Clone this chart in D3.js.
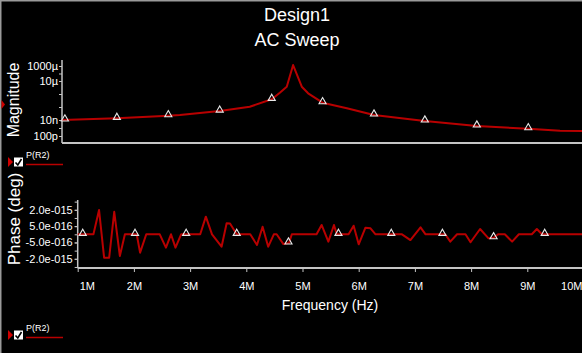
<!DOCTYPE html>
<html>
<head>
<meta charset="utf-8">
<script src="https://cdn.jsdelivr.net/npm/d3@7"></script>
<style>
  html, body { margin: 0; padding: 0; background: #000; }
  svg { display: block; }
  text { font-family: "Liberation Sans", Arial, sans-serif; fill: #fff; }
</style>
</head>
<body>
<div id="chart"></div>
<script>
// magnitude trace, frequency in MHz
const magFreq   = [1.00, 1.95, 2.84, 3.04, 3.73, 4.25, 4.63, 4.77, 4.89, 5.00, 5.15, 5.26, 5.51, 5.93, 6.40, 7.02, 7.28, 8.18, 9.07, 9.62, 10.0];
const magValues = [1.0e-8, 1.35e-8, 2.14e-8, 2.43e-8, 4.9e-8, 1.05e-7, 3.9e-7, 1.26e-6, 3.65e-6, 1.35e-3, 3.65e-6, 1.13e-6, 2.14e-7, 7.9e-8, 2.43e-8, 1.13e-8, 7.5e-9, 1.78e-9, 8.2e-10, 4.6e-10, 4.2e-10];
const magMarkerFreq = [1.05, 1.95, 2.84, 3.73, 4.63, 5.51, 6.40, 7.28, 8.18, 9.07];

// phase trace (numerical noise around 0 deg)
const phaseFreq = [1.00, 1.28, 1.38, 1.47, 1.56, 1.65, 1.75, 1.84, 2.05, 2.11, 2.22, 2.46, 2.57, 2.66, 2.74, 2.84,
  3.18, 3.28, 3.39, 3.56, 3.65, 3.71, 3.83, 4.07, 4.19, 4.29, 4.39, 4.49, 4.54, 4.66, 4.76, 4.81,
  5.25, 5.34, 5.46, 5.56, 5.61, 5.82, 5.91, 6.00, 6.12, 6.21, 6.30, 6.77, 6.92, 7.10, 7.19,
  7.54, 7.63, 7.75, 7.90, 7.99, 8.16, 8.31, 8.40, 8.48, 8.60, 8.73, 8.85, 9.08, 9.17, 9.26, 10.0];
const phaseValues = [0, 0, 1.98e-15, -1.91e-15, -1.91e-15, 1.84e-15, -1.77e-15, 0, 0, -1.50e-15, 0, 0, -1.09e-15, 0, -1.09e-15, 0,
  0, 1.44e-15, 0, -1.01e-15, 0.90e-15, 0.88e-15, 0, 0, -0.87e-15, 0.62e-15, -1.01e-15, 0, 0, -0.80e-15, -0.70e-15, 0,
  0, 0.76e-15, -0.60e-15, 0.76e-15, 0, 0, 0.70e-15, -0.82e-15, 0.54e-15, 0.49e-15, 0, 0, -0.47e-15, 0.57e-15, 0,
  0, -0.60e-15, 0, 0, -0.65e-15, 0.43e-15, -0.33e-15, -0.28e-15, 0, 0, -0.60e-15, 0, 0, 0.43e-15, 0, 0];
const phaseMarkerFreq = [1.09, 2.02, 2.93, 3.83, 4.75, 5.64, 6.58, 7.49, 8.40, 9.31];

// axis ticks
const freqTicks = [1, 2, 3, 4, 5, 6, 7, 8, 9, 10];
const freqTickLabels = ["1M", "2M", "3M", "4M", "5M", "6M", "7M", "8M", "9M", "10M"];
const magTickValues = [1e-3, 1e-5, 1e-8, 1e-10];
const magTickLabels = ["1000µ", "10µ", "10n", "100p"];
const magMinorTicks = [1e-3, 1e-4, 1e-5, 1e-6, 1e-7, 1e-8, 1e-9, 1e-10];
const phaseTickValues = [2e-15, 6.667e-16, -6.667e-16, -2e-15];
const phaseTickLabels = ["2.0e-015", "5.0e-016", "-5.0e-016", "-2.0e-015"];
const phaseMinorTicks = [2.667e-15, 2e-15, 1.333e-15, 6.667e-16, 0, -6.667e-16, -1.333e-15, -2e-15, -2.667e-15];

const W = 582, H = 353;
const traceColor = "#b80000";
const axisColor = "#c4c4c4";

const mag = { left: 62, top: 60, bottom: 143 };
const ph = { left: 77.7, top: 200, bottom: 268 };

const svg = d3.select("#chart").append("svg")
  .attr("width", W)
  .attr("height", H);

svg.append("rect").attr("width", W).attr("height", H).attr("fill", "#000");

// window border (top + left)
svg.append("path")
  .attr("d", `M0.75,${H}V0.75H${W}`)
  .attr("fill", "none")
  .attr("stroke", "#9a9a9a")
  .attr("stroke-width", 1.5);

// titles
svg.append("text").attr("x", 297).attr("y", 21).attr("text-anchor", "middle")
  .style("font-size", "18px").text("Design1");
svg.append("text").attr("x", 297).attr("y", 46).attr("text-anchor", "middle")
  .style("font-size", "18px").text("AC Sweep");

// ---- scales ----
const magX = d3.scaleLinear().domain([1, 10]).range([mag.left, 582]);
const magY = d3.scaleLog()
  .domain([1e-10, 1e-8, 1e-5, 1e-3])
  .range([136, 120, 81, 66]);

const phX = d3.scaleLinear().domain([1, 10]).range([ph.left, 583.5]);
const phY = d3.scaleLinear().domain([-2e-15, 2e-15]).range([258.8, 209.8]);

function styleAxis(g) {
  g.select(".domain").remove();
  g.selectAll(".tick line").attr("stroke", axisColor);
  g.selectAll(".tick text").attr("fill", "#fff").style("font-size", "11px")
    .style("font-family", "'Liberation Sans', Arial, sans-serif");
}

// ---- magnitude plot ----
svg.append("line")
  .attr("x1", mag.left).attr("x2", mag.left)
  .attr("y1", mag.top).attr("y2", mag.bottom)
  .attr("stroke", axisColor).attr("stroke-width", 1.5);
svg.append("line")
  .attr("x1", mag.left).attr("x2", W)
  .attr("y1", mag.bottom).attr("y2", mag.bottom)
  .attr("stroke", axisColor).attr("stroke-width", 2);

svg.append("g")
  .attr("transform", `translate(${mag.left},0)`)
  .call(d3.axisLeft(magY).tickValues(magMinorTicks).tickSize(3).tickFormat(""))
  .call(styleAxis);
svg.append("g")
  .attr("transform", `translate(${mag.left},0)`)
  .call(d3.axisLeft(magY).tickValues(magTickValues).tickSize(3).tickPadding(1)
    .tickFormat((d, i) => magTickLabels[i]))
  .call(styleAxis);

svg.append("text")
  .attr("transform", `translate(19,100) rotate(-90)`)
  .attr("text-anchor", "middle")
  .style("font-size", "16px")
  .text("Magnitude");

const magLine = d3.line()
  .x((d, i) => magX(magFreq[i]))
  .y(d => magY(d));

svg.append("path")
  .datum(magValues)
  .attr("d", magLine)
  .attr("fill", "none")
  .attr("stroke", traceColor)
  .attr("stroke-width", 2)
  .attr("stroke-linejoin", "round");

// ---- phase plot ----
svg.append("line")
  .attr("x1", ph.left).attr("x2", ph.left)
  .attr("y1", ph.top).attr("y2", ph.bottom)
  .attr("stroke", axisColor).attr("stroke-width", 1.5);
svg.append("line")
  .attr("x1", ph.left).attr("x2", W)
  .attr("y1", ph.bottom).attr("y2", ph.bottom)
  .attr("stroke", axisColor).attr("stroke-width", 2);

svg.append("g")
  .attr("transform", `translate(${ph.left},0)`)
  .call(d3.axisLeft(phY).tickValues(phaseMinorTicks).tickSize(3).tickFormat(""))
  .call(styleAxis);
svg.append("g")
  .attr("transform", `translate(${ph.left},0)`)
  .call(d3.axisLeft(phY).tickValues(phaseTickValues).tickSize(3).tickPadding(2)
    .tickFormat((d, i) => phaseTickLabels[i]))
  .call(styleAxis);

const xAxis = svg.append("g")
  .attr("transform", `translate(0,${ph.bottom})`)
  .call(d3.axisBottom(phX).tickValues(freqTicks).tickSize(4).tickPadding(10)
    .tickFormat((d, i) => freqTickLabels[i]))
  .call(styleAxis);
xAxis.selectAll(".tick text")
  .filter(d => d === freqTicks[0])
  .attr("text-anchor", "start").attr("x", 1.5);
xAxis.selectAll(".tick text")
  .filter(d => d === freqTicks[freqTicks.length - 1])
  .attr("text-anchor", "end").attr("x", d => W - phX(d));

svg.append("text")
  .attr("transform", `translate(20,219) rotate(-90)`)
  .attr("text-anchor", "middle")
  .style("font-size", "17px")
  .text("Phase (deg)");

svg.append("text")
  .attr("x", 330).attr("y", 310)
  .attr("text-anchor", "middle")
  .style("font-size", "14px")
  .text("Frequency (Hz)");

const phLine = d3.line()
  .x((d, i) => phX(phaseFreq[i]))
  .y(d => phY(d));

svg.append("path")
  .datum(phaseValues)
  .attr("d", phLine)
  .attr("fill", "none")
  .attr("stroke", traceColor)
  .attr("stroke-width", 2)
  .attr("stroke-linejoin", "round");

// ---- markers on traces ----
function yOnTrace(freqs, vals, yScale, f) {
  const i = Math.max(1, Math.min(freqs.length - 1, d3.bisectLeft(freqs, f)));
  const t = (f - freqs[i - 1]) / (freqs[i] - freqs[i - 1]);
  return yScale(vals[i - 1]) + t * (yScale(vals[i]) - yScale(vals[i - 1]));
}

const tri = d3.symbol().type(d3.symbolTriangle).size(22);

function drawMarkers(freqs, xScale, yFn) {
  svg.append("g").selectAll("path")
    .data(freqs)
    .enter()
    .append("path")
      .attr("d", tri)
      .attr("transform", f => `translate(${xScale(f)},${yFn(f) - 1})`)
      .attr("fill", "none")
      .attr("stroke", "#e8e8e8")
      .attr("stroke-width", 1.1);
}
drawMarkers(magMarkerFreq, magX, f => yOnTrace(magFreq, magValues, magY, f));
drawMarkers(phaseMarkerFreq, phX, f => yOnTrace(phaseFreq, phaseValues, phY, f));

// ---- legend entries ----
function legend(y) {
  const g = svg.append("g").attr("transform", `translate(0,${y})`);
  g.append("path").attr("d", "M8,-5L13,0L8,5Z").attr("fill", "#d00000");
  g.append("rect").attr("x", 14).attr("y", -4.5).attr("width", 9).attr("height", 9)
    .attr("fill", "#fff");
  g.append("path").attr("d", "M15.5,0.5L17.8,3L21.5,-3")
    .attr("fill", "none").attr("stroke", "#000").attr("stroke-width", 1.6);
  g.append("text").attr("x", 26).attr("y", -4).style("font-size", "9px").text("P(R2)");
  g.append("line").attr("x1", 26).attr("x2", 63).attr("y1", 2.5).attr("y2", 2.5)
    .attr("stroke", traceColor).attr("stroke-width", 1.5);
}
legend(162);
legend(335);

// cursor mark on left edge of magnitude plot
svg.append("path").attr("d", "M1.5,100L5,104.5L1.5,109Z").attr("fill", "#d00000");
</script>
</body>
</html>
